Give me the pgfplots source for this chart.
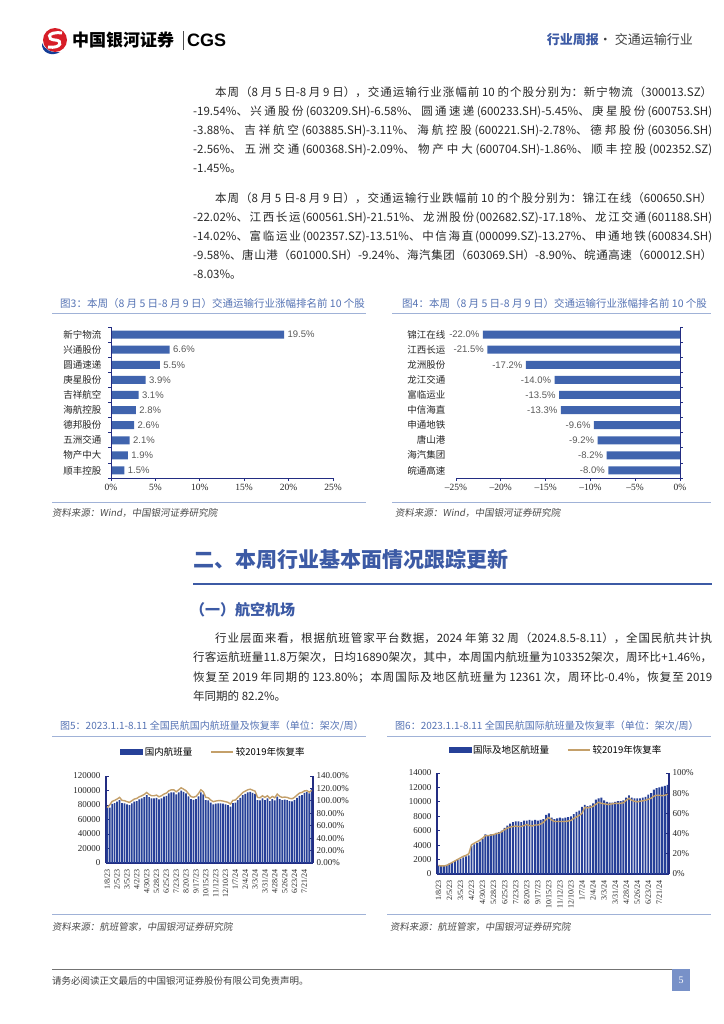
\documentclass[border=0pt]{standalone}
\usepackage{fontspec}
\usepackage{pgfplots}
\usepackage{pgfplotstable}
\pgfplotsset{compat=1.18}
\setmainfont{Liberation Serif}
\newfontfamily\cjk{Noto Sans CJK SC}
\newfontfamily\cjkit{Noto Sans CJK SC}[FakeSlant=0.15]
\newfontfamily\tnr{Liberation Serif}
\newfontfamily\arial{Liberation Sans}
\XeTeXlinebreaklocale "zh"
\XeTeXlinebreakskip=0pt plus 6pt minus 0.5pt
\tolerance=9999

\definecolor{navy}{RGB}{35,45,130}
\definecolor{barblue}{RGB}{64,100,174}
\definecolor{darkbar}{RGB}{38,64,152}
\definecolor{tanline}{RGB}{196,160,106}
\definecolor{capblue}{RGB}{85,115,180}
\definecolor{headblue}{RGB}{60,90,165}
\definecolor{rulegray}{RGB}{160,178,215}
\definecolor{bodytxt}{RGB}{40,40,40}
\definecolor{pagebox}{RGB}{120,145,200}
\definecolor{logored}{RGB}{215,30,40}
\definecolor{logoblue}{RGB}{20,60,150}

\newcommand{\bodyfont}{\cjk\fontsize{11.5bp}{14bp}\selectfont}
\newcommand{\jl}[4]{\node[anchor=base west,inner sep=0pt,text width=#3bp,align=justify,font=\bodyfont,text=bodytxt] at (#1bp,-#2bp) {\noindent\tolerance=9999\rightskip=0pt\leftskip=0pt #4\parfillskip=0pt\par};}
\newcommand{\lastline}[3]{\node[anchor=base west,inner sep=0pt,font=\bodyfont,text=bodytxt] at (#1bp,-#2bp) {#3};}

\pgfplotstableread{
i v
0 1.5
1 1.9
2 2.1
3 2.6
4 2.8
5 3.1
6 3.9
7 5.5
8 6.6
9 19.5
}\tabA

\pgfplotstableread{
i v
0 -8.0
1 -8.2
2 -9.2
3 -9.6
4 -13.3
5 -13.5
6 -14.0
7 -17.2
8 -21.5
9 -22.0
}\tabB

\pgfplotstableread{
i d r
0 76400 89.0
1 76400 93.4
2 81400 99.2
3 82700 100.8
4 84500 102.9
5 86800 105.6
6 82700 100.8
7 82300 100.3
8 80900 98.7
9 80000 97.6
10 82300 100.3
11 84500 102.9
12 85400 104.0
13 87700 106.6
14 89100 108.2
15 90900 110.3
16 93600 113.5
17 90900 110.3
18 89100 108.2
19 89100 108.2
20 90000 109.3
21 87700 106.6
22 89100 108.2
23 91400 110.9
24 92700 112.5
25 95900 116.2
26 97300 117.8
27 97300 117.8
28 94500 114.6
29 97300 117.8
30 100000 121.0
31 98200 118.8
32 95900 116.2
33 92000 111.5
34 88000 106.9
35 87000 105.8
36 88200 107.2
37 92000 111.5
38 97300 117.8
39 94500 114.6
40 86800 105.6
41 86400 105.0
42 83200 101.3
43 80900 98.7
44 81800 99.7
45 82300 100.3
46 82300 100.3
47 81800 99.7
48 80900 98.7
49 80000 97.6
50 77700 95.0
51 82700 100.8
52 83200 101.3
53 86800 105.6
54 90000 109.3
55 93600 113.5
56 95400 115.6
57 97300 117.8
58 98200 118.8
59 96800 117.2
60 95400 115.6
61 86800 105.6
62 86400 105.0
63 89100 108.2
64 86800 105.6
65 89100 108.2
66 85400 104.0
67 88200 107.2
68 86400 105.0
69 91400 110.9
70 88200 107.2
71 86800 105.6
72 87300 106.1
73 86800 105.6
74 85400 104.0
75 85000 103.4
76 86800 105.6
77 90000 109.3
78 92700 112.5
79 93600 113.5
80 96800 116.0
81 98200 116.5
82 95900 114.0
83 103352 117.0
}\tabC

\pgfplotstableread{
i n r
0 1150 8.5
1 1100 8.0
2 1100 8.0
3 1250 8.5
4 1450 10.0
5 1600 11.5
6 1800 13.0
7 2000 14.5
8 2150 16.0
9 2300 17.5
10 2450 18.5
11 2600 20.0
12 3900 29.0
13 4100 30.5
14 4300 32.0
15 4500 33.5
16 4900 35.5
17 5500 38.0
18 5400 38.0
19 5500 38.5
20 5500 39.0
21 5700 40.0
22 5800 40.5
23 6000 42.0
24 6400 44.0
25 6700 45.5
26 7000 46.5
27 7200 47.0
28 7300 47.5
29 7300 47.0
30 7200 47.0
31 7400 48.0
32 7400 49.0
33 7500 48.0
34 7400 47.5
35 7500 48.5
36 7400 48.5
37 7500 49.5
38 7600 51.0
39 8200 54.0
40 8400 56.0
41 7800 53.5
42 7600 52.0
43 7700 52.0
44 7800 52.0
45 7700 52.0
46 7800 52.0
47 7900 52.5
48 8000 53.0
49 8300 55.0
50 8600 56.5
51 8800 58.0
52 9300 60.0
53 9600 66.0
54 9400 65.5
55 9500 66.0
56 9800 67.0
57 10300 69.0
58 10500 71.0
59 10600 70.0
60 10200 69.5
61 10000 69.0
62 9900 69.0
63 9900 69.5
64 10000 70.0
65 10100 70.0
66 10100 70.0
67 10200 70.5
68 10600 73.0
69 10900 75.0
70 10600 73.0
71 10500 72.0
72 10500 71.5
73 10500 72.0
74 10600 72.5
75 10700 73.0
76 11000 74.0
77 11200 75.0
78 11700 77.0
79 11900 78.0
80 12000 78.0
81 12100 77.5
82 12200 78.0
83 12361 79.0
}\tabD

\pgfplotsset{
  dateticks/.style={
    xtick={0,4,...,80},
    xticklabels={1/8/23,2/5/23,3/5/23,4/2/23,4/30/23,5/28/23,6/25/23,7/23/23,8/20/23,9/17/23,10/15/23,11/12/23,12/10/23,1/7/24,2/4/24,3/3/24,3/31/24,4/28/24,5/26/24,6/23/24,7/21/24},
    xticklabel style={rotate=90, anchor=east, font=\tnr\fontsize{8bp}{9bp}\selectfont, text=black!85},
  },
  twinbox/.style={scale only axis, anchor=south west, xmin=-0.5, xmax=83.5, enlarge x limits=false,
    scaled y ticks=false, scaled x ticks=false,
    axis line style={draw=navy, line width=1.2bp}, tick align=inside, major tick length=3bp,
    ytick style={draw=navy, line width=0.8bp},
    yticklabel style={font=\tnr\fontsize{9bp}{10bp}\selectfont, text=black!85}},
  catlabels/.style={yticklabel style={font=\cjk\fontsize{9.5bp}{10bp}\selectfont, text=black!85}},
}

\begin{document}
\begin{tikzpicture}
\useasboundingbox (0,0) rectangle (724bp,-1024bp);
\fill[white] (0,0) rectangle (724bp,-1024bp);

% ---------- header ----------
\begin{scope}[shift={(55bp,-40bp)}]
\fill[logored] (0,0) circle (12bp);
\draw[white, line width=3bp] (7bp,7bp) .. controls (-9bp,9bp) and (-8bp,0bp) .. (0,0) .. controls (8bp,0bp) and (7bp,-9bp) .. (-7bp,-7bp);
\fill[logoblue] (-13bp,-3bp) .. controls (-14bp,-13bp) and (-3bp,-17bp) .. (5bp,-12bp) .. controls (-4bp,-13bp) and (-10bp,-10bp) .. cycle;
\end{scope}
\node[anchor=base west, inner sep=0pt, font=\cjk\bfseries\fontsize{17bp}{18bp}\selectfont] at (72bp,-46.5bp) {中国银河证券};
\draw[black!70, line width=0.8bp] (183bp,-31bp) -- (183bp,-50bp);
\node[anchor=base west, inner sep=0pt, font=\arial\bfseries\fontsize{18bp}{19bp}\selectfont] at (187bp,-46.5bp) {CGS};
\node[anchor=base east, inner sep=0pt, font=\cjk\fontsize{13bp}{14bp}\selectfont] at (693bp,-44.5bp) {\textcolor{headblue}{\bfseries 行业周报}\textcolor{black!75}{ · 交通运输行业}};

% ---------- paragraph 1 ----------
\jl{215}{96}{497}{本周（8 月 5 日-8 月 9 日），交通运输行业涨幅前 10 的个股分别为：新宁物流（300013.SZ）}
\jl{193}{115}{519}{-19.54\%、兴通股份(603209.SH)-6.58\%、圆通速递(600233.SH)-5.45\%、庚星股份(600753.SH)}
\jl{193}{134}{519}{-3.88\%、吉祥航空(603885.SH)-3.11\%、海航控股(600221.SH)-2.78\%、德邦股份(603056.SH)}
\jl{193}{153}{519}{-2.56\%、五洲交通(600368.SH)-2.09\%、物产中大(600704.SH)-1.86\%、顺丰控股(002352.SZ)}
\lastline{193}{172}{-1.45\%。}

% ---------- paragraph 2 ----------
\jl{215}{202}{497}{本周（8 月 5 日-8 月 9 日），交通运输行业跌幅前 10 的个股分别为：锦江在线（600650.SH）}
\jl{193}{221}{519}{-22.02\%、江西长运(600561.SH)-21.51\%、龙洲股份(002682.SZ)-17.18\%、龙江交通(601188.SH)}
\jl{193}{240}{519}{-14.02\%、富临运业(002357.SZ)-13.51\%、中信海直(000099.SZ)-13.27\%、申通地铁(600834.SH)}
\jl{193}{259}{519}{-9.58\%、唐山港（601000.SH）-9.24\%、海汽集团（603069.SH）-8.90\%、皖通高速（600012.SH）}
\lastline{193}{278}{-8.03\%。}

% ---------- captions fig 3 / 4 ----------
\node[anchor=base west, inner sep=0pt, font=\cjk\fontsize{10.5bp}{11bp}\selectfont, text=capblue] at (60bp,-307bp) {图3：本周（8 月 5 日-8 月 9 日）交通运输行业涨幅排名前 10 个股};
\node[anchor=base west, inner sep=0pt, font=\cjk\fontsize{10.5bp}{11bp}\selectfont, text=capblue] at (402bp,-307bp) {图4：本周（8 月 5 日-8 月 9 日）交通运输行业涨幅排名前 10 个股};
\draw[rulegray, line width=1bp] (52bp,-313bp) -- (366bp,-313bp);
\draw[rulegray, line width=1bp] (392bp,-313bp) -- (711bp,-313bp);
\draw[rulegray, line width=1bp] (52bp,-502bp) -- (366bp,-502bp);
\draw[rulegray, line width=1bp] (392bp,-502bp) -- (711bp,-502bp);
\node[anchor=base west, inner sep=0pt, font=\cjkit\fontsize{9.5bp}{10bp}\selectfont, text=black!70] at (52bp,-516bp) {资料来源：Wind，中国银河证券研究院};
\node[anchor=base west, inner sep=0pt, font=\cjkit\fontsize{9.5bp}{10bp}\selectfont, text=black!70] at (395bp,-516bp) {资料来源：Wind，中国银河证券研究院};

% ---------- chart 3 ----------
\begin{axis}[
  at={(111bp,-478bp)}, anchor=south west, scale only axis, width=222bp, height=151bp,
  clip=false,
  xbar, bar width=8bp,
  xmin=0, xmax=25, ymin=-0.5, ymax=9.5,
  axis line style={draw=none},
  xtick={0,5,10,15,20,25}, xticklabels={0\%,5\%,10\%,15\%,20\%,25\%},
  xtick pos=bottom, tick align=outside, major tick length=3bp,
  xtick style={draw=navy, line width=0.8bp},
  xticklabel style={font=\tnr\fontsize{9.5bp}{10bp}\selectfont, text=black!85},
  ytick={0,...,9},
  yticklabels={顺丰控股,物产中大,五洲交通,德邦股份,海航控股,吉祥航空,庚星股份,圆通速递,兴通股份,新宁物流},
  ytick style={draw=none}, yticklabel pos=left, catlabels,
  yticklabel style={xshift=-3bp},
  point meta=x,
  nodes near coords={\pgfmathprintnumber[fixed,fixed zerofill,precision=1,assume math mode=true]{\pgfplotspointmeta}\%},
  every node near coord/.append style={font=\arial\fontsize{9.5bp}{10bp}\selectfont, text=black!65},
]
\addplot[fill=barblue, draw=none] table[x=v,y=i]{\tabA};
\draw[navy,line width=1bp] (axis cs:0,-0.5) -- (axis cs:25,-0.5);
\draw[navy,line width=1bp] (axis cs:0,-0.5) -- (axis cs:0,9.5);
\pgfplotsinvokeforeach{-0.5,0.5,1.5,2.5,3.5,4.5,5.5,6.5,7.5,8.5,9.5}{\draw[navy,line width=0.8bp] (axis cs:0,#1) -- ([xshift=-3bp]axis cs:0,#1);}
\end{axis}

% ---------- chart 4 ----------
\begin{axis}[
  at={(456bp,-478bp)}, anchor=south west, scale only axis, width=224bp, height=151bp,
  clip=false,
  xbar, bar width=8bp,
  xmin=-25, xmax=0, ymin=-0.5, ymax=9.5,
  axis line style={draw=none},
  xtick={-25,-20,-15,-10,-5,0}, xticklabels={–25\%,–20\%,–15\%,–10\%,–5\%,0\%},
  xtick pos=bottom, tick align=outside, major tick length=3bp,
  xtick style={draw=navy, line width=0.8bp},
  xticklabel style={font=\tnr\fontsize{9.5bp}{10bp}\selectfont, text=black!85},
  ytick={0,...,9},
  yticklabels={皖通高速,海汽集团,唐山港,申通地铁,中信海直,富临运业,龙江交通,龙洲股份,江西长运,锦江在线},
  ytick style={draw=none}, yticklabel pos=left, catlabels,
  yticklabel style={xshift=-4bp},
  point meta=x,
  nodes near coords={\pgfmathprintnumber[fixed,fixed zerofill,precision=1,assume math mode=true]{\pgfplotspointmeta}\%},
  every node near coord/.append style={font=\arial\fontsize{9.5bp}{10bp}\selectfont, text=black!65},
]
\addplot[fill=barblue, draw=none] table[x=v,y=i]{\tabB};
\draw[navy,line width=1bp] (axis cs:-25,-0.5) -- (axis cs:0,-0.5);
\draw[navy,line width=1bp] (axis cs:0,-0.5) -- (axis cs:0,9.5);
\pgfplotsinvokeforeach{-0.5,0.5,1.5,2.5,3.5,4.5,5.5,6.5,7.5,8.5,9.5}{\draw[navy,line width=0.8bp] (axis cs:0,#1) -- ([xshift=3bp]axis cs:0,#1);}
\end{axis}

% ---------- section heading ----------
\node[anchor=base west, inner sep=0pt, font=\cjk\bfseries\fontsize{21bp}{22bp}\selectfont, text=headblue] at (193bp,-567bp) {二、本周行业基本面情况跟踪更新};
\draw[headblue, line width=1.3bp] (193bp,-584bp) -- (712bp,-584bp);
\node[anchor=base west, inner sep=0pt, font=\cjk\bfseries\fontsize{15bp}{16bp}\selectfont, text=headblue] at (190bp,-615.5bp) {（一）航空机场};

% ---------- paragraph 3 ----------
\jl{215}{642}{497}{行业层面来看，根据航班管家平台数据，2024 年第 32 周（2024.8.5-8.11），全国民航共计执}
\jl{193}{661.5}{519}{行客运航班量11.8万架次，日均16890架次，其中，本周国内航班量为103352架次，周环比+1.46\%，}
\jl{193}{681}{519}{恢复至 2019 年同期的 123.80\%；本周国际及地区航班量为 12361 次，周环比-0.4\%，恢复至 2019}
\lastline{193}{700.5}{年同期的 82.2\%。}

% ---------- captions fig 5 / 6 ----------
\node[anchor=base west, inner sep=0pt, font=\cjk\fontsize{10bp}{11bp}\selectfont, text=capblue] at (60bp,-729bp) {图5：2023.1.1-8.11 全国民航国内航班量及恢复率（单位：架次/周）};
\node[anchor=base west, inner sep=0pt, font=\cjk\fontsize{10bp}{11bp}\selectfont, text=capblue] at (395bp,-729bp) {图6：2023.1.1-8.11 全国民航国际航班量及恢复率（单位：架次/周）};
\draw[rulegray, line width=1bp] (52bp,-736bp) -- (366bp,-736bp);
\draw[rulegray, line width=1bp] (387bp,-736bp) -- (711bp,-736bp);
\draw[rulegray, line width=1bp] (52bp,-914bp) -- (366bp,-914bp);
\draw[rulegray, line width=1bp] (387bp,-914bp) -- (711bp,-914bp);
\node[anchor=base west, inner sep=0pt, font=\cjkit\fontsize{9.5bp}{10bp}\selectfont, text=black!70] at (52bp,-930bp) {资料来源：航班管家，中国银河证券研究院};
\node[anchor=base west, inner sep=0pt, font=\cjkit\fontsize{9.5bp}{10bp}\selectfont, text=black!70] at (390bp,-930bp) {资料来源：航班管家，中国银河证券研究院};

% ---------- chart 5 ----------
\begin{axis}[
  twinbox, at={(106bp,-863bp)}, width=207bp, height=87bp,
  ybar, bar width=1.7bp,
  ymin=0, ymax=120000,
  axis x line*=bottom, axis y line*=left,
  ytick={0,20000,40000,60000,80000,100000,120000},
  yticklabels={0,20000,40000,60000,80000,100000,120000},
  yticklabel style={xshift=-2bp},
  dateticks, xtick style={draw=none},
]
\addplot[fill=darkbar, draw=none] table[x=i,y=d]{\tabC};
\end{axis}
\begin{axis}[
  twinbox, at={(106bp,-863bp)}, width=207bp, height=87bp,
  ymin=0, ymax=140,
  axis x line=none, axis y line*=right,
  ytick={0,20,40,60,80,100,120,140},
  yticklabels={0.00\%,20.00\%,40.00\%,60.00\%,80.00\%,100.00\%,120.00\%,140.00\%},
  legend columns=2,
  legend style={draw=none, fill=none, at={(0.5,1)}, anchor=south, xshift=4bp, yshift=17bp,
    font=\cjk\fontsize{9.5bp}{10bp}\selectfont, inner sep=0pt,
    /tikz/every even column/.append style={column sep=16bp}},
]
\addlegendimage{legend image code/.code={\fill[darkbar] (0bp,-2.5bp) rectangle (22bp,2.5bp);}}
\addlegendentry{国内航班量}
\addplot[tanline, line width=1.4bp, mark=none, legend image code/.code={\draw[tanline,line width=1.6bp] (0bp,0bp) -- (22bp,0bp);}] table[x=i,y=r]{\tabC};
\addlegendentry{较2019年恢复率}
\end{axis}

% ---------- chart 6 ----------
\begin{axis}[
  twinbox, at={(437bp,-874bp)}, width=232bp, height=101bp,
  ybar, bar width=1.9bp,
  ymin=0, ymax=14000,
  axis x line*=bottom, axis y line*=left,
  ytick={0,2000,4000,6000,8000,10000,12000,14000},
  yticklabels={0,2000,4000,6000,8000,10000,12000,14000},
  yticklabel style={xshift=-2bp},
  dateticks, xtick style={draw=none},
]
\addplot[fill=darkbar, draw=none] table[x=i,y=n]{\tabD};
\end{axis}
\begin{axis}[
  twinbox, at={(437bp,-874bp)}, width=232bp, height=101bp,
  ymin=0, ymax=100,
  axis x line=none, axis y line*=right,
  ytick={0,20,40,60,80,100},
  yticklabels={0\%,20\%,40\%,60\%,80\%,100\%},
  legend columns=2,
  legend style={draw=none, fill=none, at={(0.5,1)}, anchor=south, xshift=3bp, yshift=16bp,
    font=\cjk\fontsize{9.5bp}{10bp}\selectfont, inner sep=0pt,
    /tikz/every even column/.append style={column sep=16bp}},
]
\addlegendimage{legend image code/.code={\fill[darkbar] (0bp,-2.5bp) rectangle (22bp,2.5bp);}}
\addlegendentry{国际及地区航班量}
\addplot[tanline, line width=1.4bp, mark=none, legend image code/.code={\draw[tanline,line width=1.6bp] (0bp,0bp) -- (22bp,0bp);}] table[x=i,y=r]{\tabD};
\addlegendentry{较2019年恢复率}
\end{axis}

% ---------- footer ----------
\draw[black!55, line width=0.8bp] (52bp,-969bp) -- (690bp,-969bp);
\node[anchor=base west, inner sep=0pt, font=\cjk\fontsize{9.5bp}{10bp}\selectfont, text=black!75] at (52bp,-984bp) {请务必阅读正文最后的中国银河证券股份有限公司免责声明。};
\fill[pagebox] (672bp,-969bp) rectangle (690bp,-991bp);
\node[inner sep=0pt, font=\tnr\fontsize{10bp}{11bp}\selectfont, text=white] at (681bp,-980bp) {5};
\end{tikzpicture}
\end{document}
